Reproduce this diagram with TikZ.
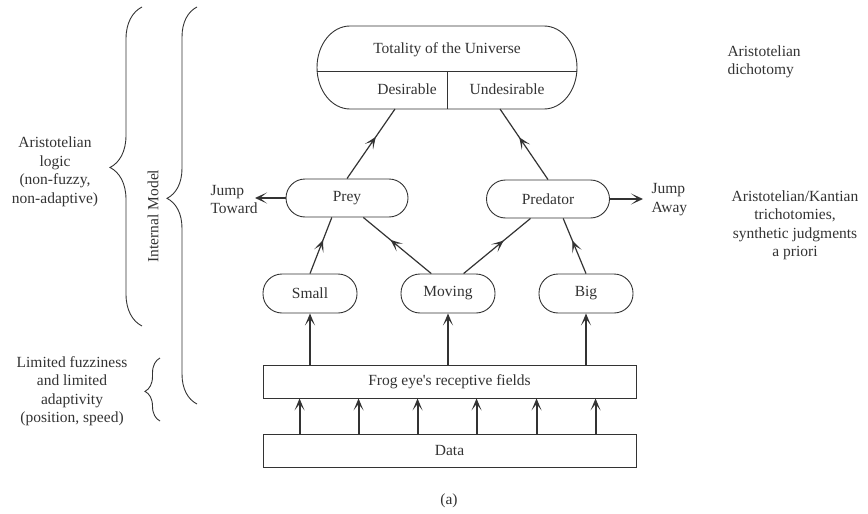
\documentclass[tikz,border=0pt]{standalone}
\usepackage{fontspec}
\setmainfont{Liberation Serif}
\newfontfamily\tnr{Liberation Serif}
\usetikzlibrary{arrows.meta,decorations.markings,decorations.pathreplacing,calc}
\definecolor{ink}{HTML}{333333}
\begin{document}
\begin{tikzpicture}[x=1pt,y=-1pt,
  every node/.style={font=\tnr\fontsize{15.5}{18.5}\selectfont, text=ink},
  pill/.style={draw=ink, line width=0.9pt, rounded corners=19pt, minimum width=94pt, minimum height=39pt, inner sep=0pt},
  box/.style={draw=ink, line width=0.9pt, minimum width=373pt, minimum height=33pt, inner sep=0pt},
  vup/.style={draw=ink, line width=2.1pt, -{Stealth[length=12pt,width=10pt,inset=6.5pt]}},
  jmp/.style={draw=ink, line width=2.2pt, -{Stealth[length=12pt,width=11pt,inset=7pt]}},
  diag/.style={draw=ink, line width=1.2pt, postaction={decorate},
    decoration={markings, mark=at position 0.6 with {\arrow{Stealth[length=12pt,width=10pt,inset=6.5pt]}}}},
  brc/.style={draw=ink, line width=0.9pt, decorate},
]
\useasboundingbox (0,0) rectangle (868,514);

% top node
\draw[ink, line width=0.9pt] (350,26) -- (544,26)
  arc[start angle=90, end angle=-90, x radius=33pt, y radius=41.5pt]
  -- (350,109)
  arc[start angle=270, end angle=90, x radius=33pt, y radius=41.5pt] -- cycle;
\draw[ink, line width=0.9pt] (317,71) -- (577,71);
\draw[ink, line width=0.9pt] (447,71) -- (447,109);
\node (tot) at (447,50) {Totality of the Universe};
\node (des) at (407,89) [minimum height=38pt] {Desirable};
\node (und) at (507,89) [minimum height=38pt] {Undesirable};
\coordinate (dA) at (395,109);
\coordinate (uA) at (500,109);

% middle nodes
\node[pill, minimum width=122pt, minimum height=38pt] (prey) at (347,198) {Prey};
\node[pill, minimum width=123pt, minimum height=38pt] (pred) at (548,199) {Predator};
\node[pill] (small) at (310,293.5) {Small};
\node[pill] (moving) at (448,293.5) {Moving};
\node[pill] (big) at (586,293.5) {Big};

\node[box] (frog) at (449.5,381.5) {Frog eye's receptive fields};
\node[box] (data) at (449.5,450.5) {Data};

% diagonal arrows
\draw[diag] (prey.north) -- (dA);
\draw[diag] (pred.north) -- (uA);
\draw[diag] (small.north) -- (prey.232);
\draw[diag] (moving.130) -- (prey.-50);
\draw[diag] (moving.52) -- (pred.228);
\draw[diag] (big.north) -- (pred.-52);

% jump arrows
\node[anchor=west, align=left] (jt) at (207,199.5) {Jump\\Toward};
\node[anchor=west, align=left] (ja) at (648,199.5) {Jump\\Away};
\coordinate (jtA) at (255,198);
\coordinate (jaA) at (643,199);
\draw[jmp] (prey.west) -- (jtA);
\draw[jmp] (pred.east) -- (jaA);

% vertical arrows
\draw[vup] (frog.north -| small.south) -- (small.south);
\draw[vup] (frog.north -| moving.south) -- (moving.south);
\draw[vup] (frog.north -| big.south) -- (big.south);
\foreach \dx in {37,96,155,214,274,333}
  \draw[vup] ($(data.north west)+(\dx,0)$) -- ($(frog.south west)+(\dx,0)$);

% braces
\draw[brc, decoration={brace, amplitude=30pt, aspect=0.518}] (197,404) -- (197,7);
\draw[brc, decoration={brace, amplitude=32pt, aspect=0.497}] (142,326) -- (142,7);
\draw[brc, decoration={brace, amplitude=15pt, aspect=0.47}] (160,421) -- (160,358);

\node[rotate=90] (im) at (153,216) {Internal Model};
\node[align=center] (al) at (55,172) {Aristotelian\\logic\\(non-fuzzy,\\non-adaptive)};
\node[align=center] (lf) at (72,391) {Limited fuzziness\\and limited\\adaptivity\\(position, speed)};
\node[anchor=west, align=left] (ad) at (724,62) {Aristotelian\\dichotomy};
\node[align=center] (ak) at (795,225.5) {Aristotelian/Kantian\\trichotomies,\\synthetic judgments\\a priori};
\node (cap) at (449,501) {(a)};
\end{tikzpicture}
\end{document}
